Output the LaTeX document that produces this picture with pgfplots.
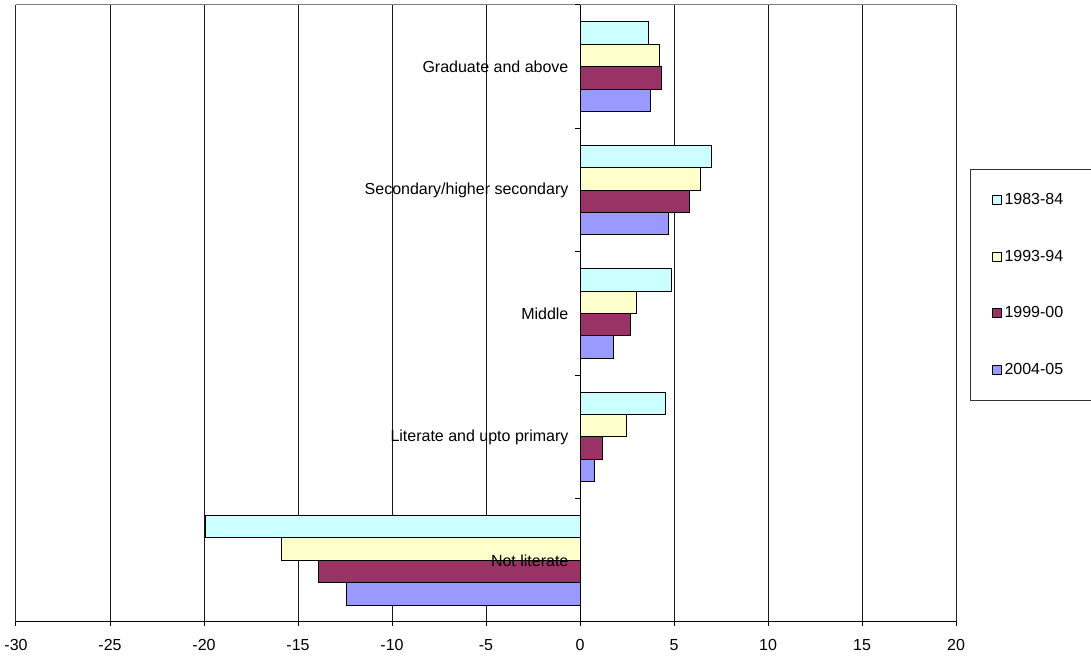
\documentclass[border=0pt]{standalone}
\usepackage{pgfplots}
\pgfplotsset{compat=1.18}
\usepackage{fontspec}
\setmainfont{Liberation Sans}
\definecolor{cA}{HTML}{CCFFFF}
\definecolor{cB}{HTML}{FFFFCC}
\definecolor{cC}{HTML}{993366}
\definecolor{cD}{HTML}{9999FF}
\begin{document}
\begin{tikzpicture}
\begin{axis}[
  scale only axis, width=705pt, height=462.75pt,
  xmin=-30, xmax=20, ymin=-0.5, ymax=4.5,
  axis x line*=bottom, axis y line=none,
  x axis line style={black, line width=0.75pt, -},
  xtick={-30,-25,...,20},
  xmajorgrids, grid style={black!90, line width=0.75pt},
  tick style={black, line width=0.75pt},
  major tick length=3pt, tick align=outside,
  ytick=\empty,
  font=\fontsize{12}{14}\selectfont,
  /pgf/number format/assume math mode=true,
  xticklabel style={yshift=-6.5pt, font=\fontsize{12}{14}\selectfont},
  legend style={at={(rel axis cs:1.0149,0.7342)}, anchor=north west,
    draw=black!80, line width=0.75pt, fill=white,
    font=\fontsize{12}{14}\selectfont, inner xsep=16pt, inner ysep=16pt,
    row sep=28.5pt, /tikz/every even column/.append style={column sep=2pt}},
  legend cell align=left,
  legend image code/.code={\draw[#1, draw=black, line width=0.75pt] (0pt,-3.4pt) rectangle (6.75pt,3.4pt);},
]
% categories: 0 Not literate, 1 Literate and upto primary, 2 Middle, 3 Secondary/higher secondary, 4 Graduate and above
\addplot[xbar, bar width=0.1815, bar shift=0.27225, fill=cA, draw=black, line width=0.75pt]
  coordinates {(-19.9,0) (4.56,1) (4.85,2) (7.0,3) (3.65,4)};
\addlegendentry{\makebox[64pt][l]{1983-84}}
\addplot[xbar, bar width=0.1815, bar shift=0.09075, fill=cB, draw=black, line width=0.75pt]
  coordinates {(-15.9,0) (2.46,1) (3.0,2) (6.4,3) (4.22,4)};
\addlegendentry{\makebox[64pt][l]{1993-94}}
\addplot[xbar, bar width=0.1815, bar shift=-0.09075, fill=cC, draw=black, line width=0.75pt]
  coordinates {(-13.9,0) (1.19,1) (2.7,2) (5.85,3) (4.33,4)};
\addlegendentry{\makebox[64pt][l]{1999-00}}
\addplot[xbar, bar width=0.1815, bar shift=-0.27225, fill=cD, draw=black, line width=0.75pt]
  coordinates {(-12.4,0) (0.76,1) (1.8,2) (4.7,3) (3.77,4)};
\addlegendentry{\makebox[64pt][l]{2004-05}}
% plot-area border
\draw[black!50, line width=0.75pt] (rel axis cs:0,0) -- (rel axis cs:0,1) -- (rel axis cs:1,1) -- (rel axis cs:1,0);
% category axis at x=0
\draw[black, line width=0.75pt] (axis cs:0,-0.5) -- (axis cs:0,4.5);
\pgfplotsinvokeforeach{-0.5,0.5,1.5,2.5,3.5,4.5}{
  \draw[black, line width=0.75pt] (axis cs:0,#1) -- ([xshift=-3.5pt]axis cs:0,#1);
}
\node[anchor=east, inner sep=0pt] at ([xshift=-8.5pt]axis cs:0,4) {Graduate and above};
\node[anchor=east, inner sep=0pt] at ([xshift=-8.5pt]axis cs:0,3) {Secondary/higher secondary};
\node[anchor=east, inner sep=0pt] at ([xshift=-8.5pt]axis cs:0,2) {Middle};
\node[anchor=east, inner sep=0pt] at ([xshift=-8.5pt]axis cs:0,1) {Literate and upto primary};
\node[anchor=east, inner sep=0pt] at ([xshift=-8.5pt]axis cs:0,0) {Not literate};
\end{axis}
\pgfresetboundingbox
\path ([shift={(-12pt,-26.25pt)}]current axis.south west) rectangle ([shift={(101.25pt,3.75pt)}]current axis.north east);
\end{tikzpicture}
\end{document}
